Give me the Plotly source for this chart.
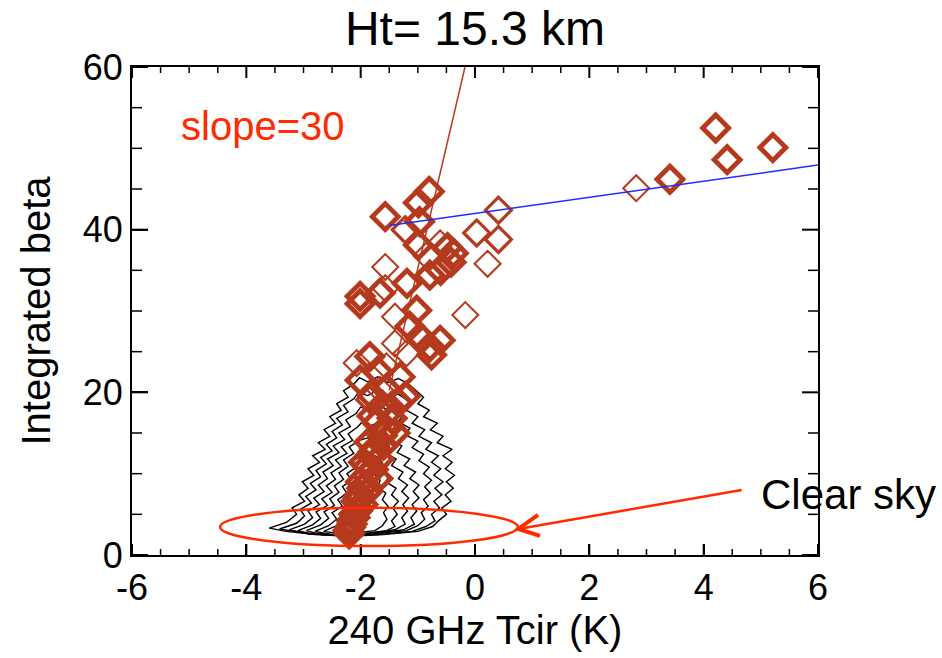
import plotly.graph_objects as go

# ---------------- data ----------------
title_text = "Ht= 15.3 km"
x_title = "240 GHz Tcir (K)"
y_title = "Integrated beta"
x_ticks = [-6, -4, -2, 0, 2, 4, 6]
x_ticktext = ["-6", "-4", "-2", "0", "2", "4", "6"]
x_minor = [-5.5, -5, -4.5, -3.5, -3, -2.5, -1.5, -1, -0.5, 0.5, 1, 1.5, 2.5, 3, 3.5, 4.5, 5, 5.5]
y_ticks = [0, 20, 40, 60]
y_ticktext = ["0", "20", "40", "60"]
y_minor = [5, 10, 15, 25, 30, 35, 45, 50, 55]

# diamonds drawn with a heavy outline
thick_x = [3.41, 4.21, 4.41, 5.21,
           -0.80, -0.99, -0.97, -0.99, -0.38, -0.48, -0.42, -0.60, -0.79, -1.19, -1.57,
           -2.01, -2.01, -1.66, -1.02, -1.14, -0.96, -0.79, -0.61, -0.76, -1.84, -2.01, -1.31, -1.70,
           -2.20, -2.18, -2.16, -2.12, -2.05, -2.08, -2.02, -1.98, -2.00, -1.90, -1.78, -1.95, -1.82,
           -1.75, -1.85, -1.62, -1.55, -1.72, -1.80, -1.50, -1.62, -1.35, -1.22, -1.80, -1.55,
           -2.22, -2.15, -2.10, -2.06, -1.96, -2.04, -1.88, -1.92, -1.70, -1.88, -1.68, -1.78, -1.60, -1.45, -1.40]
thick_y = [46.2, 52.5, 48.6, 50.1,
           44.7, 43.3, 41.0, 38.1, 37.1, 37.8, 36.0, 35.0, 34.4, 33.4, 41.6,
           31.8, 30.9, 32.2, 30.1, 28.1, 26.8, 25.6, 26.4, 24.6, 24.4, 21.5, 21.9, 22.6,
           2.6, 3.4, 4.2, 5.0, 5.8, 6.6, 7.4, 8.2, 9.0, 9.8, 10.5, 11.4, 12.3,
           13.1, 13.9, 14.7, 15.5, 16.3, 17.1, 17.6, 18.4, 18.8, 19.5, 19.6, 20.4,
           3.0, 3.8, 4.6, 5.4, 6.2, 7.0, 7.8, 8.6, 9.4, 10.9, 11.8, 12.7, 13.5, 16.8, 15.0]

# diamonds with a medium outline
medium_x = [-1.22, 0.03, 0.41, 0.41, -1.84]
medium_y = [40.0, 39.6, 42.4, 38.8, 19.1]

# diamonds with a thin outline
thin_x = [2.82, 0.22, -0.61, -1.57, -1.57, -1.40, -0.17, -1.40, -2.07, -1.55, -1.66, -1.20, -0.85]
thin_y = [45.1, 35.8, 38.3, 35.4, 32.8, 29.3, 29.5, 26.0, 23.6, 23.2, 20.3, 24.8, 36.8]

# fitted lines
slope_line_x = [-1.5, -0.175]
slope_line_y = [20.25, 60.0]
blue_line_x = [-1.5, 6.0]
blue_line_y = [40.5, 47.95]

# nested contours (closed, hand-read)
contour1 = [(-3.60, 3.3), (-3.30, 4.0), (-3.12, 5.0), (-3.20, 5.8), (-2.98, 6.6), (-3.08, 7.4), (-2.92, 8.2),
            (-3.02, 9.0), (-2.82, 9.8), (-2.92, 10.6), (-2.72, 11.4), (-2.84, 12.2), (-2.62, 13.0), (-2.74, 13.8),
            (-2.54, 14.6), (-2.64, 15.4), (-2.44, 16.2), (-2.54, 17.0), (-2.34, 17.8), (-2.42, 18.6), (-2.22, 19.4),
            (-2.30, 20.2), (-2.12, 21.0), (-2.02, 21.8), (-1.88, 21.3), (-1.70, 21.9), (-1.52, 21.2), (-1.34, 21.7),
            (-1.16, 21.0), (-1.02, 20.2), (-0.90, 19.4), (-1.00, 18.6), (-0.80, 17.8), (-0.90, 17.0), (-0.66, 16.2),
            (-0.78, 15.4), (-0.56, 14.6), (-0.66, 13.8), (-0.40, 13.0), (-0.56, 12.2), (-0.40, 11.4), (-0.52, 10.6),
            (-0.36, 9.8), (-0.50, 9.0), (-0.38, 8.2), (-0.52, 7.4), (-0.42, 6.6), (-0.58, 5.8), (-0.50, 5.0),
            (-0.64, 4.2), (-0.74, 3.5), (-1.00, 2.9), (-1.60, 2.5), (-2.20, 2.3), (-2.80, 2.5), (-3.30, 2.9), (-3.60, 3.3)]
contour2 = [(-3.42, 3.2), (-3.12, 3.9), (-2.98, 4.8), (-3.06, 5.6), (-2.86, 6.4), (-2.96, 7.2), (-2.78, 8.0),
            (-2.88, 8.8), (-2.70, 9.6), (-2.78, 10.4), (-2.60, 11.2), (-2.70, 12.0), (-2.50, 12.8), (-2.60, 13.6),
            (-2.42, 14.4), (-2.50, 15.2), (-2.32, 16.0), (-2.42, 16.8), (-2.22, 17.6), (-2.30, 18.4), (-2.12, 19.2),
            (-2.04, 20.0), (-1.88, 19.6), (-1.72, 20.2), (-1.56, 19.6), (-1.40, 20.0), (-1.26, 19.4), (-1.12, 18.6),
            (-1.20, 17.8), (-1.00, 17.0), (-1.10, 16.2), (-0.88, 15.4), (-0.98, 14.6), (-0.76, 13.8), (-0.86, 13.0),
            (-0.64, 12.2), (-0.76, 11.4), (-0.60, 10.6), (-0.72, 9.8), (-0.56, 9.0), (-0.70, 8.2), (-0.58, 7.4),
            (-0.72, 6.6), (-0.62, 5.8), (-0.76, 5.0), (-0.70, 4.2), (-0.86, 3.5), (-1.10, 2.9), (-1.70, 2.5),
            (-2.30, 2.4), (-2.90, 2.6), (-3.42, 3.2)]
contour3 = [(-3.25, 3.1), (-2.98, 3.8), (-2.84, 4.6), (-2.92, 5.4), (-2.72, 6.2), (-2.82, 7.0), (-2.64, 7.8),
            (-2.74, 8.6), (-2.58, 9.4), (-2.66, 10.2), (-2.48, 11.0), (-2.58, 11.8), (-2.38, 12.6), (-2.48, 13.4),
            (-2.28, 14.2), (-2.38, 15.0), (-2.18, 15.8), (-2.26, 16.6), (-2.08, 17.4), (-2.00, 18.2), (-1.84, 17.8),
            (-1.68, 18.4), (-1.52, 17.8), (-1.38, 18.1), (-1.26, 17.2), (-1.34, 16.4), (-1.14, 15.6), (-1.22, 14.8),
            (-1.00, 14.0), (-1.10, 13.2), (-0.90, 12.4), (-0.98, 11.6), (-0.80, 10.8), (-0.90, 10.0), (-0.76, 9.2),
            (-0.88, 8.4), (-0.78, 7.6), (-0.90, 6.8), (-0.82, 6.0), (-0.94, 5.2), (-0.88, 4.4), (-1.00, 3.6),
            (-1.20, 3.0), (-1.75, 2.6), (-2.35, 2.4), (-2.90, 2.6), (-3.25, 3.1)]
contour4 = [(-3.10, 3.0), (-2.84, 3.7), (-2.70, 4.5), (-2.78, 5.3), (-2.58, 6.1), (-2.68, 6.9), (-2.50, 7.7),
            (-2.60, 8.5), (-2.44, 9.3), (-2.52, 10.1), (-2.34, 10.9), (-2.44, 11.7), (-2.24, 12.5), (-2.34, 13.3),
            (-2.14, 14.1), (-2.22, 14.9), (-2.06, 15.7), (-1.98, 16.3), (-1.82, 15.9), (-1.66, 16.4), (-1.52, 15.8),
            (-1.40, 15.0), (-1.48, 14.2), (-1.28, 13.4), (-1.36, 12.6), (-1.14, 11.8), (-1.24, 11.0), (-1.04, 10.2),
            (-1.14, 9.4), (-0.98, 8.6), (-1.08, 7.8), (-0.98, 7.0), (-1.10, 6.2), (-1.02, 5.4), (-1.12, 4.6),
            (-1.06, 3.8), (-1.25, 3.1), (-1.80, 2.6), (-2.40, 2.4), (-2.85, 2.6), (-3.10, 3.0)]
contour5 = [(-2.95, 3.0), (-2.70, 3.7), (-2.56, 4.5), (-2.64, 5.3), (-2.46, 6.1), (-2.54, 6.9), (-2.38, 7.7),
            (-2.46, 8.5), (-2.30, 9.3), (-2.38, 10.1), (-2.22, 10.9), (-2.30, 11.7), (-2.12, 12.5), (-2.20, 13.3),
            (-2.02, 14.1), (-1.88, 14.4), (-1.74, 13.9), (-1.62, 14.3), (-1.50, 13.4), (-1.58, 12.6), (-1.38, 11.8),
            (-1.46, 11.0), (-1.26, 10.2), (-1.34, 9.4), (-1.18, 8.6), (-1.28, 7.8), (-1.16, 7.0), (-1.26, 6.2),
            (-1.18, 5.4), (-1.28, 4.6), (-1.22, 3.8), (-1.40, 3.1), (-1.90, 2.6), (-2.45, 2.5), (-2.80, 2.7),
            (-2.95, 3.0)]
contour6 = [(-2.80, 2.9), (-2.56, 3.6), (-2.42, 4.4), (-2.50, 5.2), (-2.32, 6.0), (-2.40, 6.8), (-2.24, 7.6),
            (-2.32, 8.4), (-2.16, 9.2), (-2.24, 10.0), (-2.08, 10.8), (-2.14, 11.6), (-1.98, 12.2), (-1.86, 11.8),
            (-1.74, 12.2), (-1.62, 11.4), (-1.68, 10.6), (-1.50, 9.8), (-1.56, 9.0), (-1.38, 8.2), (-1.46, 7.4),
            (-1.34, 6.6), (-1.44, 5.8), (-1.36, 5.0), (-1.46, 4.2), (-1.40, 3.5), (-1.55, 3.0), (-2.00, 2.6),
            (-2.50, 2.5), (-2.80, 2.9)]
contour7 = [(-2.65, 2.9), (-2.42, 3.6), (-2.30, 4.4), (-2.36, 5.2), (-2.20, 6.0), (-2.28, 6.8), (-2.12, 7.6),
            (-2.18, 8.4), (-2.04, 9.2), (-1.98, 9.9), (-1.86, 9.6), (-1.76, 10.0), (-1.66, 9.2), (-1.70, 8.4),
            (-1.56, 7.6), (-1.62, 6.8), (-1.52, 6.0), (-1.60, 5.2), (-1.54, 4.4), (-1.62, 3.6), (-1.75, 3.0),
            (-2.10, 2.7), (-2.45, 2.7), (-2.65, 2.9)]
contours = [contour1, contour2, contour3, contour4, contour5, contour6, contour7]

# annotation geometry (data units)
ellipse_box = dict(x0=-4.46, x1=0.75, y0=1.1, y1=5.8)
arrow_tail = (4.665, 8.0)
arrow_tip = (0.757, 3.2)
barb_a = (1.102, 4.92)
barb_b = (1.137, 2.34)

# ---------------- style ----------------
FONT = "Liberation Sans, Arial, Helvetica, sans-serif"
MARK = "#B5391D"
RED = "#FF2A00"
PLOT_W, PLOT_H = 686, 488          # plot-area size in px (from margins below)
X_MAJ, X_MIN = 11, 6               # tick lengths in px
Y_MAJ, Y_MIN = 16, 10

fig = go.Figure()

for c in contours:
    fig.add_trace(go.Scatter(x=[p[0] for p in c], y=[p[1] for p in c], mode="lines",
                             line=dict(color="black", width=1.4), hoverinfo="skip", showlegend=False))

for xs, ys, lw in [(thin_x, thin_y, 2.0), (medium_x, medium_y, 3.2), (thick_x, thick_y, 4.8)]:
    fig.add_trace(go.Scatter(x=xs, y=ys, mode="markers", showlegend=False,
                             marker=dict(symbol="diamond-open", size=20, color=MARK,
                                         line=dict(color=MARK, width=lw))))

fig.add_trace(go.Scatter(x=slope_line_x, y=slope_line_y, mode="lines",
                         line=dict(color=MARK, width=1.5), showlegend=False))
fig.add_trace(go.Scatter(x=blue_line_x, y=blue_line_y, mode="lines",
                         line=dict(color="#1F2BFF", width=1.5), showlegend=False))

# inside tick marks on all four sides (placed through the axis scales)
for vals, ln, w in [(x_ticks, X_MAJ, 2), (x_minor, X_MIN, 1.5)]:
    f = ln / PLOT_H
    for v in vals:
        fig.add_shape(type="line", xref="x", yref="paper", x0=v, x1=v, y0=0, y1=f,
                      line=dict(color="black", width=w))
        fig.add_shape(type="line", xref="x", yref="paper", x0=v, x1=v, y0=1, y1=1 - f,
                      line=dict(color="black", width=w))
for vals, ln, w in [(y_ticks, Y_MAJ, 2), (y_minor, Y_MIN, 1.5)]:
    f = ln / PLOT_W
    for v in vals:
        fig.add_shape(type="line", xref="paper", yref="y", x0=0, x1=f, y0=v, y1=v,
                      line=dict(color="black", width=w))
        fig.add_shape(type="line", xref="paper", yref="y", x0=1, x1=1 - f, y0=v, y1=v,
                      line=dict(color="black", width=w))

fig.add_shape(type="circle", xref="x", yref="y", line=dict(color=RED, width=2.5), **ellipse_box)
fig.add_shape(type="line", xref="x", yref="y", x0=arrow_tail[0], y0=arrow_tail[1],
              x1=arrow_tip[0], y1=arrow_tip[1], line=dict(color=RED, width=2.5))
fig.add_shape(type="path", xref="x", yref="y",
              path=f"M {barb_a[0]},{barb_a[1]} L {arrow_tip[0]},{arrow_tip[1]} L {barb_b[0]},{barb_b[1]}",
              line=dict(color=RED, width=4))

fig.add_annotation(x=-3.71, y=52.7, xref="x", yref="y", text="slope=30", showarrow=False,
                   font=dict(family=FONT, size=40, color=RED), xanchor="center", yanchor="middle")
fig.add_annotation(x=(848 - 132) / 686, y=(555 - 494) / 488, xref="paper", yref="paper", text="Clear sky",
                   showarrow=False, font=dict(family=FONT, size=42, color="black"),
                   xanchor="center", yanchor="middle")

axis_common = dict(showgrid=False, zeroline=False, showline=True, linecolor="black", linewidth=2,
                   mirror=True, ticks="inside", tickcolor="black", tickwidth=2,
                   tickfont=dict(family=FONT, size=36, color="black"))

fig.update_layout(
    width=942, height=658,
    margin=dict(l=132, r=124, t=67, b=103),
    paper_bgcolor="white", plot_bgcolor="white",
    font=dict(family=FONT, color="black"),
    title=dict(text=title_text, x=0.5, xref="paper", xanchor="center",
               y=1 - 28 / 658, yref="container", yanchor="middle",
               font=dict(family=FONT, size=48, color="black")),
    xaxis=dict(range=[-6, 6], tickvals=x_ticks, ticktext=x_ticktext, ticklen=X_MAJ,
               title=dict(text=x_title, font=dict(family=FONT, size=40, color="black"), standoff=6),
               **axis_common),
    yaxis=dict(range=[0, 60], tickvals=y_ticks, ticktext=y_ticktext, ticklen=Y_MAJ,
               title=dict(text=y_title, font=dict(family=FONT, size=40, color="black"), standoff=20),
               **axis_common),
)

fig.write_html("out.html")
